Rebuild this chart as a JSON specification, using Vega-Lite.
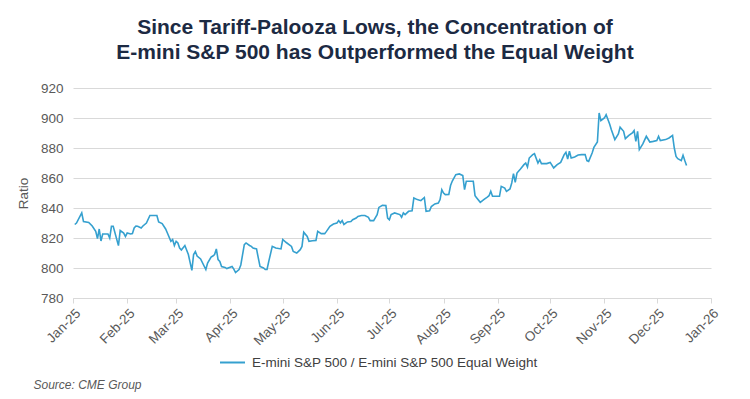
{
  "$schema": "https://vega.github.io/schema/vega-lite/v6.json",
  "width": 638,
  "height": 210,
  "autosize": {"type": "none"},
  "padding": {"left": 73, "top": 88, "right": 39, "bottom": 101},
  "background": "white",
  "title": {
    "text": ["Since Tariff-Palooza Lows, the Concentration of", "E-mini S&P 500 has Outperformed the Equal Weight"],
    "font": "Liberation Sans",
    "fontSize": 21,
    "fontWeight": "bold",
    "color": "#1c2a43",
    "anchor": "middle",
    "dx": -17,
    "offset": 18,
    "lineHeight": 25
  },
  "data": {
    "values": [
      {"date": "2025-01-02", "ratio": 829},
      {"date": "2025-01-03", "ratio": 830},
      {"date": "2025-01-06", "ratio": 836.7},
      {"date": "2025-01-07", "ratio": 831},
      {"date": "2025-01-10", "ratio": 830.4},
      {"date": "2025-01-12", "ratio": 828},
      {"date": "2025-01-14", "ratio": 824.4},
      {"date": "2025-01-15", "ratio": 819.6},
      {"date": "2025-01-16", "ratio": 826},
      {"date": "2025-01-17", "ratio": 818},
      {"date": "2025-01-18", "ratio": 822.7},
      {"date": "2025-01-21", "ratio": 822.7},
      {"date": "2025-01-22", "ratio": 820},
      {"date": "2025-01-23", "ratio": 827.8},
      {"date": "2025-01-24", "ratio": 827.8},
      {"date": "2025-01-27", "ratio": 814.9},
      {"date": "2025-01-28", "ratio": 825},
      {"date": "2025-01-30", "ratio": 823.3},
      {"date": "2025-01-31", "ratio": 821},
      {"date": "2025-02-01", "ratio": 823.3},
      {"date": "2025-02-03", "ratio": 822.7},
      {"date": "2025-02-04", "ratio": 823},
      {"date": "2025-02-05", "ratio": 826.7},
      {"date": "2025-02-06", "ratio": 828},
      {"date": "2025-02-07", "ratio": 827.8},
      {"date": "2025-02-09", "ratio": 826.7},
      {"date": "2025-02-10", "ratio": 828},
      {"date": "2025-02-12", "ratio": 830},
      {"date": "2025-02-14", "ratio": 835},
      {"date": "2025-02-17", "ratio": 835},
      {"date": "2025-02-18", "ratio": 835},
      {"date": "2025-02-19", "ratio": 830.7},
      {"date": "2025-02-21", "ratio": 829.6},
      {"date": "2025-02-23", "ratio": 826},
      {"date": "2025-02-24", "ratio": 823.3},
      {"date": "2025-02-26", "ratio": 817.8},
      {"date": "2025-02-27", "ratio": 819},
      {"date": "2025-02-28", "ratio": 815},
      {"date": "2025-03-01", "ratio": 817.8},
      {"date": "2025-03-02", "ratio": 816.7},
      {"date": "2025-03-03", "ratio": 813.3},
      {"date": "2025-03-04", "ratio": 812},
      {"date": "2025-03-06", "ratio": 815},
      {"date": "2025-03-08", "ratio": 809},
      {"date": "2025-03-10", "ratio": 798.4},
      {"date": "2025-03-11", "ratio": 809},
      {"date": "2025-03-12", "ratio": 811},
      {"date": "2025-03-13", "ratio": 808},
      {"date": "2025-03-15", "ratio": 806},
      {"date": "2025-03-18", "ratio": 799},
      {"date": "2025-03-19", "ratio": 803.3},
      {"date": "2025-03-21", "ratio": 807.3},
      {"date": "2025-03-22", "ratio": 808},
      {"date": "2025-03-23", "ratio": 809},
      {"date": "2025-03-24", "ratio": 812.7},
      {"date": "2025-03-25", "ratio": 805.6},
      {"date": "2025-03-26", "ratio": 804.4},
      {"date": "2025-03-27", "ratio": 801},
      {"date": "2025-03-29", "ratio": 800.4},
      {"date": "2025-03-30", "ratio": 799.6},
      {"date": "2025-04-02", "ratio": 801},
      {"date": "2025-04-03", "ratio": 799.3},
      {"date": "2025-04-04", "ratio": 797},
      {"date": "2025-04-06", "ratio": 799},
      {"date": "2025-04-07", "ratio": 802},
      {"date": "2025-04-09", "ratio": 815.6},
      {"date": "2025-04-10", "ratio": 816.7},
      {"date": "2025-04-12", "ratio": 815},
      {"date": "2025-04-13", "ratio": 814.4},
      {"date": "2025-04-14", "ratio": 813.3},
      {"date": "2025-04-16", "ratio": 812.7},
      {"date": "2025-04-17", "ratio": 806.7},
      {"date": "2025-04-18", "ratio": 801},
      {"date": "2025-04-20", "ratio": 800},
      {"date": "2025-04-21", "ratio": 799},
      {"date": "2025-04-22", "ratio": 799},
      {"date": "2025-04-23", "ratio": 804.4},
      {"date": "2025-04-25", "ratio": 814.4},
      {"date": "2025-04-27", "ratio": 813.3},
      {"date": "2025-04-30", "ratio": 812.7},
      {"date": "2025-05-01", "ratio": 819},
      {"date": "2025-05-03", "ratio": 817},
      {"date": "2025-05-06", "ratio": 814.4},
      {"date": "2025-05-07", "ratio": 811},
      {"date": "2025-05-09", "ratio": 810},
      {"date": "2025-05-11", "ratio": 812.2},
      {"date": "2025-05-12", "ratio": 814.4},
      {"date": "2025-05-13", "ratio": 823.8},
      {"date": "2025-05-15", "ratio": 821},
      {"date": "2025-05-16", "ratio": 817.8},
      {"date": "2025-05-18", "ratio": 818.2},
      {"date": "2025-05-20", "ratio": 818.4},
      {"date": "2025-05-21", "ratio": 824.4},
      {"date": "2025-05-23", "ratio": 822.9},
      {"date": "2025-05-25", "ratio": 822.9},
      {"date": "2025-05-26", "ratio": 824.4},
      {"date": "2025-05-28", "ratio": 827.8},
      {"date": "2025-05-30", "ratio": 829.3},
      {"date": "2025-06-01", "ratio": 830},
      {"date": "2025-06-02", "ratio": 831.6},
      {"date": "2025-06-03", "ratio": 830},
      {"date": "2025-06-04", "ratio": 831.6},
      {"date": "2025-06-05", "ratio": 829},
      {"date": "2025-06-07", "ratio": 830.7},
      {"date": "2025-06-09", "ratio": 831},
      {"date": "2025-06-10", "ratio": 832.2},
      {"date": "2025-06-12", "ratio": 833.3},
      {"date": "2025-06-13", "ratio": 834.4},
      {"date": "2025-06-15", "ratio": 835},
      {"date": "2025-06-17", "ratio": 835},
      {"date": "2025-06-19", "ratio": 833.8},
      {"date": "2025-06-20", "ratio": 831.6},
      {"date": "2025-06-22", "ratio": 831.6},
      {"date": "2025-06-24", "ratio": 835.6},
      {"date": "2025-06-25", "ratio": 840.4},
      {"date": "2025-06-27", "ratio": 841.8},
      {"date": "2025-06-29", "ratio": 841.6},
      {"date": "2025-06-30", "ratio": 833.3},
      {"date": "2025-07-01", "ratio": 832.2},
      {"date": "2025-07-02", "ratio": 835.6},
      {"date": "2025-07-04", "ratio": 836.7},
      {"date": "2025-07-07", "ratio": 835.6},
      {"date": "2025-07-08", "ratio": 833.8},
      {"date": "2025-07-09", "ratio": 836.7},
      {"date": "2025-07-10", "ratio": 835.6},
      {"date": "2025-07-12", "ratio": 837.8},
      {"date": "2025-07-14", "ratio": 838.2},
      {"date": "2025-07-15", "ratio": 846.7},
      {"date": "2025-07-17", "ratio": 845.6},
      {"date": "2025-07-19", "ratio": 844.9},
      {"date": "2025-07-21", "ratio": 847},
      {"date": "2025-07-22", "ratio": 837.8},
      {"date": "2025-07-24", "ratio": 838.2},
      {"date": "2025-07-25", "ratio": 841},
      {"date": "2025-07-27", "ratio": 842.7},
      {"date": "2025-07-29", "ratio": 843.3},
      {"date": "2025-07-30", "ratio": 845.6},
      {"date": "2025-07-31", "ratio": 852.2},
      {"date": "2025-08-01", "ratio": 850},
      {"date": "2025-08-02", "ratio": 848.9},
      {"date": "2025-08-04", "ratio": 849},
      {"date": "2025-08-05", "ratio": 855},
      {"date": "2025-08-06", "ratio": 858},
      {"date": "2025-08-08", "ratio": 862.2},
      {"date": "2025-08-10", "ratio": 862.7},
      {"date": "2025-08-12", "ratio": 861.6},
      {"date": "2025-08-13", "ratio": 852.2},
      {"date": "2025-08-14", "ratio": 857.8},
      {"date": "2025-08-16", "ratio": 857.8},
      {"date": "2025-08-18", "ratio": 857.8},
      {"date": "2025-08-19", "ratio": 848.2},
      {"date": "2025-08-20", "ratio": 846.7},
      {"date": "2025-08-22", "ratio": 843.8},
      {"date": "2025-08-24", "ratio": 845.6},
      {"date": "2025-08-26", "ratio": 847.3},
      {"date": "2025-08-27", "ratio": 848.2},
      {"date": "2025-08-28", "ratio": 851.1},
      {"date": "2025-08-29", "ratio": 847.8},
      {"date": "2025-08-31", "ratio": 847.8},
      {"date": "2025-09-02", "ratio": 847.8},
      {"date": "2025-09-03", "ratio": 854.4},
      {"date": "2025-09-05", "ratio": 853.3},
      {"date": "2025-09-06", "ratio": 851.1},
      {"date": "2025-09-08", "ratio": 852.7},
      {"date": "2025-09-09", "ratio": 856.7},
      {"date": "2025-09-10", "ratio": 862.9},
      {"date": "2025-09-11", "ratio": 857.1},
      {"date": "2025-09-12", "ratio": 863.3},
      {"date": "2025-09-14", "ratio": 866},
      {"date": "2025-09-16", "ratio": 868.9},
      {"date": "2025-09-17", "ratio": 870},
      {"date": "2025-09-18", "ratio": 867.3},
      {"date": "2025-09-19", "ratio": 873.3},
      {"date": "2025-09-21", "ratio": 875.6},
      {"date": "2025-09-22", "ratio": 876.2},
      {"date": "2025-09-24", "ratio": 870},
      {"date": "2025-09-25", "ratio": 872.2},
      {"date": "2025-09-26", "ratio": 869.6},
      {"date": "2025-09-29", "ratio": 869.6},
      {"date": "2025-10-01", "ratio": 870.4},
      {"date": "2025-10-03", "ratio": 866.7},
      {"date": "2025-10-05", "ratio": 868.9},
      {"date": "2025-10-07", "ratio": 870.4},
      {"date": "2025-10-09", "ratio": 875.6},
      {"date": "2025-10-10", "ratio": 877.1},
      {"date": "2025-10-11", "ratio": 872.7},
      {"date": "2025-10-12", "ratio": 877.8},
      {"date": "2025-10-13", "ratio": 873.3},
      {"date": "2025-10-15", "ratio": 874},
      {"date": "2025-10-17", "ratio": 875.3},
      {"date": "2025-10-19", "ratio": 875.6},
      {"date": "2025-10-21", "ratio": 875.6},
      {"date": "2025-10-22", "ratio": 871.6},
      {"date": "2025-10-23", "ratio": 871.1},
      {"date": "2025-10-25", "ratio": 876.7},
      {"date": "2025-10-26", "ratio": 880.4},
      {"date": "2025-10-28", "ratio": 884},
      {"date": "2025-10-29", "ratio": 903.3},
      {"date": "2025-10-30", "ratio": 898.2},
      {"date": "2025-11-01", "ratio": 900},
      {"date": "2025-11-02", "ratio": 902.2},
      {"date": "2025-11-04", "ratio": 896},
      {"date": "2025-11-05", "ratio": 892.2},
      {"date": "2025-11-07", "ratio": 885.6},
      {"date": "2025-11-09", "ratio": 889.3},
      {"date": "2025-11-10", "ratio": 893.8},
      {"date": "2025-11-12", "ratio": 891.1},
      {"date": "2025-11-13", "ratio": 886.2},
      {"date": "2025-11-15", "ratio": 888.4},
      {"date": "2025-11-17", "ratio": 890},
      {"date": "2025-11-18", "ratio": 891.6},
      {"date": "2025-11-19", "ratio": 884.4},
      {"date": "2025-11-20", "ratio": 891.1},
      {"date": "2025-11-21", "ratio": 878.9},
      {"date": "2025-11-23", "ratio": 882.7},
      {"date": "2025-11-25", "ratio": 887.8},
      {"date": "2025-11-27", "ratio": 884},
      {"date": "2025-11-29", "ratio": 884.4},
      {"date": "2025-12-01", "ratio": 884.9},
      {"date": "2025-12-02", "ratio": 887.8},
      {"date": "2025-12-03", "ratio": 884.9},
      {"date": "2025-12-06", "ratio": 885.6},
      {"date": "2025-12-08", "ratio": 886.7},
      {"date": "2025-12-10", "ratio": 888.4},
      {"date": "2025-12-11", "ratio": 880},
      {"date": "2025-12-12", "ratio": 874.4},
      {"date": "2025-12-13", "ratio": 872.9},
      {"date": "2025-12-15", "ratio": 871.6},
      {"date": "2025-12-16", "ratio": 875.1},
      {"date": "2025-12-17", "ratio": 871.6},
      {"date": "2025-12-18", "ratio": 868.4}
    ]
  },
  "mark": {"type": "line", "strokeWidth": 1.6},
  "encoding": {
    "x": {
      "field": "date",
      "type": "temporal",
      "scale": {"type": "utc", "domain": [{"year": 2025, "month": 1, "date": 1, "utc": true}, {"year": 2026, "month": 1, "date": 1, "utc": true}]},
      "axis": {
        "format": "%b-%y",
        "tickCount": {"interval": "month", "step": 1},
        "labelAngle": -45,
        "labelAlign": "right",
        "labelFontSize": 13.5,
        "labelColor": "#595959",
        "labelPadding": 3,
        "grid": false,
        "domain": true,
        "domainColor": "#d9d9d9",
        "ticks": true,
        "tickColor": "#d9d9d9",
        "tickSize": 5,
        "labelOverlap": false,
        "labelFlush": false,
        "title": "Source: CME Group",
        "titleX": -40,
        "titleY": 90,
        "titleAngle": 0,
        "titleAlign": "left",
        "titleAnchor": "start",
        "titleBaseline": "alphabetic",
        "titleFontStyle": "italic",
        "titleFontWeight": "normal",
        "titleFontSize": 12,
        "titleColor": "#595959"
      }
    },
    "y": {
      "field": "ratio",
      "type": "quantitative",
      "scale": {"domain": [780, 920], "nice": false, "zero": false},
      "axis": {
        "values": [780, 800, 820, 840, 860, 880, 900, 920],
        "title": "Ratio",
        "grid": true,
        "gridColor": "#d9d9d9",
        "domain": false,
        "ticks": false,
        "labelPadding": 10,
        "labelFontSize": 13.5,
        "labelColor": "#595959",
        "titleFontSize": 13.5,
        "titleFontWeight": "normal",
        "titleColor": "#595959",
        "titlePadding": 10
      }
    },
    "color": {
      "datum": "E-mini S&P 500 / E-mini S&P 500 Equal Weight",
      "type": "nominal",
      "scale": {"range": ["#35a0cf"]},
      "legend": {
        "orient": "none",
        "legendX": 146,
        "legendY": 261,
        "title": null,
        "symbolType": "stroke",
        "symbolSize": 625,
        "symbolStrokeWidth": 2,
        "labelFontSize": 13.5,
        "labelColor": "#404040",
        "labelOffset": 6,
        "labelLimit": 0,
        "padding": 0
      }
    }
  },
  "config": {
    "view": {"stroke": null},
    "font": "Liberation Sans"
  }
}
